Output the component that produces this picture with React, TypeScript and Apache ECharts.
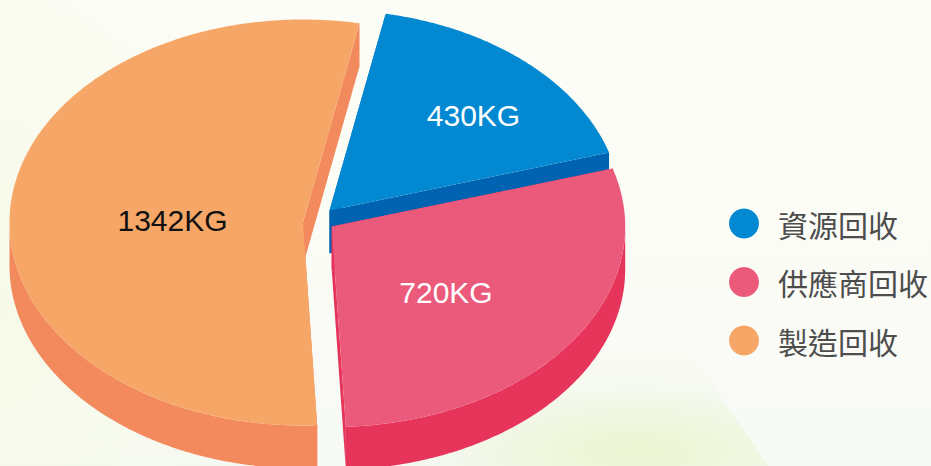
import React, { useEffect, useRef } from "react";
import * as echarts from "echarts";

const names = ["資源回收", "供應商回收", "製造回收"];
const values = [430, 720, 1342];
const unit = "KG";
const legendOrder = ["資源回收", "供應商回收", "製造回收"];

// Drawing order of the slices is orange, blue, pink (later slices overlap earlier walls)
const drawOrder = [2, 0, 1];
const startDeg = 11.1; // clockwise from 12 o'clock, where the first slice starts

const topColors = ["#0389D1", "#EB5A7B", "#F6A767"];
const sideColors = ["#0063B1", "#E7345B", "#F38A5E"];
const labelColors = ["#FFFFFF", "#FFFFFF", "#111111"];
const apexes = [[329.5, 210.5], [331.7, 226.5], [303, 222.5]];
const radii = [[292, 200.5], [293.5, 200.5], [293.5, 203]];
const labelAt = [[473.5, 115], [446, 292], [172.5, 220]];
const DEPTH = 43;

const total = values.reduce((a, b) => a + b, 0);

function sliceAngles(i: number): [number, number] {
  let a = startDeg;
  for (let k = 0; k < i; k++) a += (values[k] / total) * 360;
  return [a, a + (values[i] / total) * 360];
}

function pt(i: number, deg: number, dy = 0): number[] {
  const t = (deg * Math.PI) / 180;
  return [
    apexes[i][0] + radii[i][0] * Math.sin(t),
    apexes[i][1] - radii[i][1] * Math.cos(t) + dy,
  ];
}

function arc(i: number, from: number, to: number, dy = 0): number[][] {
  const out: number[][] = [];
  const n = Math.max(2, Math.ceil(Math.abs(to - from) * 2));
  for (let k = 0; k <= n; k++) out.push(pt(i, from + ((to - from) * k) / n, dy));
  return out;
}

function makeRender(i: number) {
  return (_p: any, api: any) => {
    const [a0, a1] = sliceAngles(i);
    const [ax, ay] = apexes[i];
    const side = { fill: sideColors[i] };
    const top = { fill: topColors[i] };
    const children: any[] = [];
    // outer wall: only the front half of the ellipse (90..270 deg) shows
    const from = Math.max(a0, 90);
    const to = Math.min(a1, 270);
    if (to > from) {
      children.push({
        type: "polygon",
        silent: true,
        shape: { points: [...arc(i, from, to), ...arc(i, to, from, DEPTH)] },
        style: side,
      });
    }
    // the two cut walls
    for (const deg of [a0, a1]) {
      children.push({
        type: "polygon",
        silent: true,
        shape: { points: [[ax, ay], pt(i, deg), pt(i, deg, DEPTH), [ax, ay + DEPTH]] },
        style: side,
      });
    }
    // top face
    children.push({
      type: "polygon",
      silent: true,
      shape: { points: [[ax, ay], ...arc(i, a0, a1)] },
      style: top,
    });
    children.push({
      type: "text",
      silent: true,
      style: {
        x: labelAt[i][0],
        y: labelAt[i][1],
        text: `${api.value(0)}${unit}`,
        fill: labelColors[i],
        font: '30px "Liberation Sans", Arial, sans-serif',
        textAlign: "center",
        textVerticalAlign: "middle",
      },
    });
    return { type: "group", children };
  };
}

const layer: React.CSSProperties = { position: "absolute", left: 0, top: 0, width: 931, height: 466 };

export default function App() {
  const ref = useRef<HTMLDivElement>(null);
  useEffect(() => {
    document.body.style.margin = "0";
    document.body.style.overflow = "hidden";
    const chart = echarts.init(ref.current!, null, { renderer: "svg" });
    chart.setOption({
      animation: false,
      legend: {
        data: legendOrder,
        orient: "vertical",
        left: 729,
        top: 208.5,
        icon: "circle",
        itemWidth: 30,
        itemHeight: 30,
        itemGap: 28.5,
        selectedMode: false,
        textStyle: {
          color: "#4D4D4D",
          fontSize: 30,
          padding: [0, 0, 5, 14],
          fontFamily: '"Noto Sans CJK TC", sans-serif',
        },
        padding: 0,
      },
      series: drawOrder.map((i) => ({
        type: "custom",
        name: names[i],
        coordinateSystem: "none",
        clip: false,
        itemStyle: { color: topColors[i] },
        data: [values[i]],
        renderItem: makeRender(i),
      })),
    });
    return () => chart.dispose();
  }, []);
  return (
    <div style={{ position: "relative", width: 931, height: 466, overflow: "hidden" }}>
      <div
        style={{
          ...layer,
          background:
            "radial-gradient(ellipse 300px 460px at 0px 300px, #F6FAE8, rgba(246,250,232,0)), " +
            "linear-gradient(180deg, #FDFDF7 0%, #FCFCF6 50%, #FAFBF6 75%, #F6F9F4 100%)",
        }}
      />
      <div
        style={{
          ...layer,
          clipPath: "polygon(400px 466px, 450px 300px, 655px 300px, 768px 466px)",
          background:
            "radial-gradient(ellipse 190px 60px at 640px 450px, rgba(233,244,200,0.7), rgba(233,244,200,0)), " +
            "radial-gradient(ellipse 280px 130px at 620px 466px, rgba(240,247,228,1), rgba(240,247,228,0))",
        }}
      />
      <div ref={ref} style={layer} />
    </div>
  );
}
